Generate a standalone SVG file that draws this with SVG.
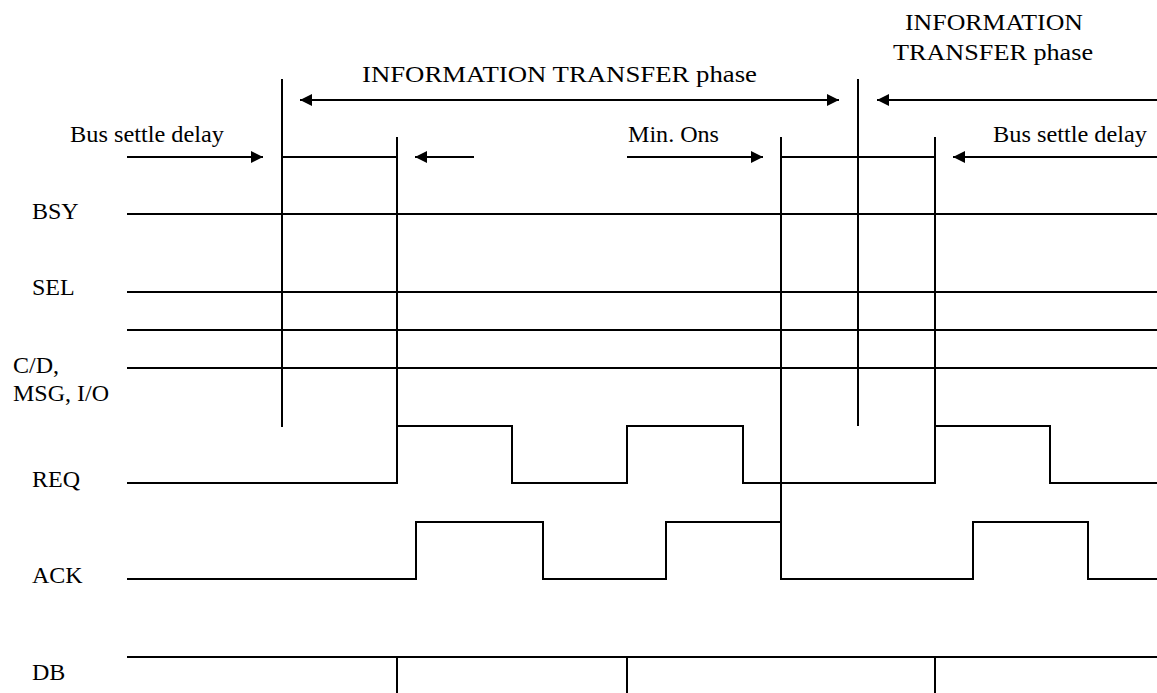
<svg xmlns="http://www.w3.org/2000/svg" width="1157" height="693" viewBox="0 0 1157 693">
<style>
text{font-family:"Liberation Serif","Times New Roman",serif;font-size:24px;fill:#000}
.s{fill:none;stroke:#000;stroke-width:2}
.a{fill:none;stroke:#000;stroke-width:2;marker-end:url(#ah)}
.d{fill:none;stroke:#000;stroke-width:2;marker-start:url(#ah);marker-end:url(#ah)}
</style>
<defs>
<marker id="ah" markerUnits="userSpaceOnUse" markerWidth="12" markerHeight="12" refX="12" refY="6" orient="auto-start-reverse">
<path d="M0,0 L12,6 L0,12 z" fill="#000"/>
</marker>
</defs>
<rect width="1157" height="693" fill="#fff"/>
<g id="labels">
<text x="362" y="82" textLength="395" lengthAdjust="spacingAndGlyphs">INFORMATION TRANSFER phase</text>
<text x="905" y="30" textLength="178" lengthAdjust="spacingAndGlyphs">INFORMATION</text>
<text x="893" y="60" textLength="200" lengthAdjust="spacingAndGlyphs">TRANSFER phase</text>
<text x="70" y="142" textLength="154" lengthAdjust="spacingAndGlyphs">Bus settle delay</text>
<text x="628" y="142" textLength="91" lengthAdjust="spacingAndGlyphs">Min. Ons</text>
<text x="993" y="142" textLength="154" lengthAdjust="spacingAndGlyphs">Bus settle delay</text>
</g>
<g id="sig-BSY"><text x="32" y="219">BSY</text><path class="s" d="M127,214 H1157"/></g>
<g id="sig-SEL"><text x="32" y="295">SEL</text><path class="s" d="M127,292 H1157"/></g>
<g id="sig-extra"><path class="s" d="M127,330 H1157"/></g>
<g id="sig-CD"><text x="13" y="373">C/D,</text><text x="13" y="401">MSG, I/O</text><path class="s" d="M127,368 H1157"/></g>
<g id="sig-REQ"><text x="32" y="487">REQ</text><path class="s" d="M127,483 H397 V426 H512 V483 H627 V426 H743 V483 H935 V426 H1050 V483 H1157"/></g>
<g id="sig-ACK"><text x="32" y="583">ACK</text><path class="s" d="M127,579 H416 V522 H543 V579 H666 V522 H781 V579 H973 V522 H1088 V579 H1157"/></g>
<g id="sig-DB"><text x="32" y="680">DB</text><path class="s" d="M127,657 H1157 M397,657 V693 M627,657 V693 M935,657 V693"/></g>
<g id="connectors">
<path class="s" d="M282,79 V427 M397,137 V483 M282,157 H397 M781,137 V579 M858,79 V426 M935,137 V426 M781,157 H935"/>
<path class="a" d="M127,157 H263"/>
<path class="a" d="M474,157 H415"/>
<path class="a" d="M627,157 H763"/>
<path class="a" d="M1157,157 H953"/>
<path class="d" d="M300,100 H839"/>
<path class="a" d="M1157,100 H877"/>
</g>
</svg>
